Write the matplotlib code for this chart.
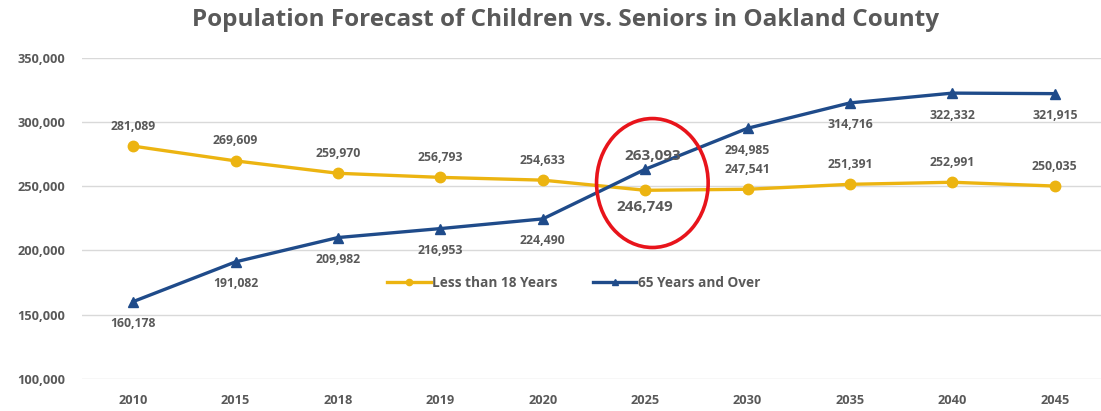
import matplotlib
matplotlib.use("Agg")
import matplotlib.pyplot as plt
import numpy as np
from matplotlib.patches import Ellipse
from matplotlib.ticker import FuncFormatter

plt.rcParams["font.family"] = ["Open Sans", "DejaVu Sans"]

years = ["2010", "2015", "2018", "2019", "2020", "2025", "2030", "2035", "2040", "2045"]
under_18 = [281089, 269609, 259970, 256793, 254633, 246749, 247541, 251391, 252991, 250035]
over_65 = [160178, 191082, 209982, 216953, 224490, 263093, 294985, 314716, 322332, 321915]

GOLD = "#ECB411"
NAVY = "#1F4B8A"
TEXT = "#595959"
HIGHLIGHT = 5  # index of 2025

fig = plt.figure(figsize=(11.01, 4.11), dpi=100)
ax = fig.add_axes([0.0745, 0.078, 0.930, 0.782])

x = np.arange(len(years))

ax.plot(x, under_18, color=GOLD, lw=2.4, marker="o", ms=7.5, zorder=3,
        label="Less than 18 Years")
ax.plot(x, over_65, color=NAVY, lw=2.4, marker="^", ms=7.5, zorder=3,
        label="65 Years and Over")

for i, (a, b) in enumerate(zip(under_18, over_65)):
    big = i == HIGHLIGHT
    fs = 11 if big else 8.8
    dy_a = -17 if big else 20
    dy_b = 13 if big else -22
    dx_b = 8 if big else 0
    ax.annotate(f"{a:,}", (i, a), xytext=(0, dy_a), textcoords="offset pixels",
                ha="center", va="center", fontsize=fs, fontweight="bold", color=TEXT, zorder=5)
    ax.annotate(f"{b:,}", (i, b), xytext=(dx_b, dy_b), textcoords="offset pixels",
                ha="center", va="center", fontsize=fs, fontweight="bold", color=TEXT, zorder=5)

# red ring around the crossover year
ax.add_patch(Ellipse((HIGHLIGHT + 0.07, 252400), width=1.09, height=100300, fill=False,
                     edgecolor="#E8141B", lw=2.6, zorder=6))

ax.set_xlim(-0.5, 9.5)
ax.set_ylim(100000, 350000)
ax.set_xticks(x)
ax.set_xticklabels(years)
ax.set_yticks(np.arange(100000, 350001, 50000))
ax.yaxis.set_major_formatter(FuncFormatter(lambda v, _: f"{int(v):,}"))
ax.tick_params(length=0, labelsize=9.2, labelcolor=TEXT)
ax.tick_params(axis="y", pad=12)
ax.tick_params(axis="x", pad=11)
for lab in ax.get_xticklabels() + ax.get_yticklabels():
    lab.set_fontweight("bold")
ax.grid(axis="y", color="#D9D9D9", lw=1)
ax.set_axisbelow(True)
for s in ax.spines.values():
    s.set_visible(False)

ax.legend(loc="center", bbox_to_anchor=(0.48, 0.30), ncol=2, frameon=False,
          labelcolor=TEXT, handlelength=3.2, handletextpad=0.1, markerscale=0.6,
          columnspacing=2.6, prop={"weight": "bold", "size": 9.8})

fig.text(0.514, 0.952, "Population Forecast of Children vs. Seniors in Oakland County",
         ha="center", va="center", fontsize=17.5, fontweight="bold", color=TEXT)

fig.savefig("out.png", dpi=100, facecolor="white")
